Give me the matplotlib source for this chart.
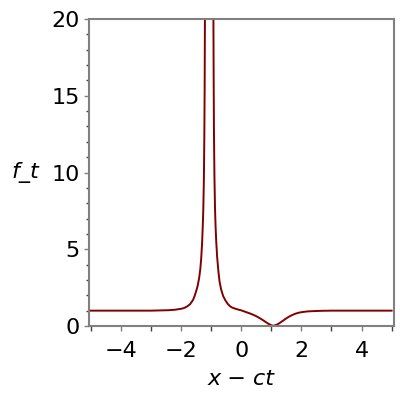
#!/usr/bin/env python3
import matplotlib
matplotlib.use("Agg")
import matplotlib.pyplot as plt
from matplotlib.ticker import MultipleLocator

# Curve, split at the pole near x - ct = -1.07
left_x = [-5.0, -4.0, -3.0, -2.6, -2.4, -2.2, -2.0, -1.9, -1.8, -1.7, -1.6, -1.55,
          -1.5, -1.45, -1.4, -1.36, -1.33, -1.30, -1.28, -1.26, -1.24, -1.225,
          -1.215, -1.205]
left_y = [1.0, 1.0, 1.0, 1.02, 1.03, 1.06, 1.12, 1.17, 1.27, 1.42, 1.7, 1.95,
          2.25, 2.6, 3.1, 3.7, 4.4, 5.4, 6.4, 7.6, 9.6, 12.5,
          15.5, 20.5]

right_x = [-0.925, -0.915, -0.905, -0.89, -0.87, -0.85, -0.83, -0.80, -0.76, -0.72,
           -0.67, -0.60, -0.52, -0.45, -0.38, -0.30, -0.20, -0.10, 0.0, 0.1,
           0.2, 0.3, 0.4, 0.5, 0.6, 0.7, 0.8, 0.9, 1.0, 1.06,
           1.12, 1.2, 1.3, 1.4, 1.5, 1.6, 1.7, 1.8, 1.9, 2.0,
           2.2, 2.4, 2.7, 3.0, 4.0, 5.0]
right_y = [20.5, 16.0, 12.5, 9.8, 7.6, 6.4, 5.5, 4.5, 3.6, 2.9,
           2.4, 1.95, 1.65, 1.45, 1.3, 1.2, 1.13, 1.07, 1.02, 0.95,
           0.88, 0.81, 0.73, 0.64, 0.53, 0.41, 0.28, 0.15, 0.05, 0.02,
           0.04, 0.1, 0.22, 0.36, 0.5, 0.62, 0.72, 0.8, 0.86, 0.9,
           0.95, 0.97, 0.99, 1.0, 1.0, 1.0]

line_color = "#800000"
axis_color = "#808080"

fig = plt.figure(figsize=(4, 4), dpi=100)
ax = fig.add_axes([0.2225, 0.185, 0.7625, 0.7675])

ax.plot(left_x, left_y, color=line_color, linewidth=1.4)
ax.plot(right_x, right_y, color=line_color, linewidth=1.4)

ax.set_xlim(-5.06, 5.08)
ax.set_ylim(0, 20)

# Maple-like boxed axes in grey
for side in ax.spines.values():
    side.set_color(axis_color)
    side.set_linewidth(1.5)

ax.xaxis.set_major_locator(MultipleLocator(2))
ax.xaxis.set_minor_locator(MultipleLocator(1))
ax.yaxis.set_major_locator(MultipleLocator(5))
ax.yaxis.set_minor_locator(MultipleLocator(1))

ax.tick_params(which="major", direction="out", length=3.5, width=1.0,
               color=axis_color, labelsize=16, labelcolor="black")
ax.tick_params(which="minor", direction="out", length=2.5, width=1.0,
               color="#404040")
ax.tick_params(axis="x", which="both", pad=7)
ax.tick_params(axis="y", which="both", pad=3)
ax.tick_params(axis="x", which="minor", length=3.5)

ax.set_xlabel("x \u2212 ct", fontsize=16, fontstyle="italic")
ax.xaxis.set_label_coords(0.5, -0.14)
ax.set_ylabel("f_t", fontsize=16, fontstyle="italic", rotation=0, va="center")
ax.yaxis.set_label_coords(-0.21, 0.5)

fig.savefig("out.png", dpi=100)
